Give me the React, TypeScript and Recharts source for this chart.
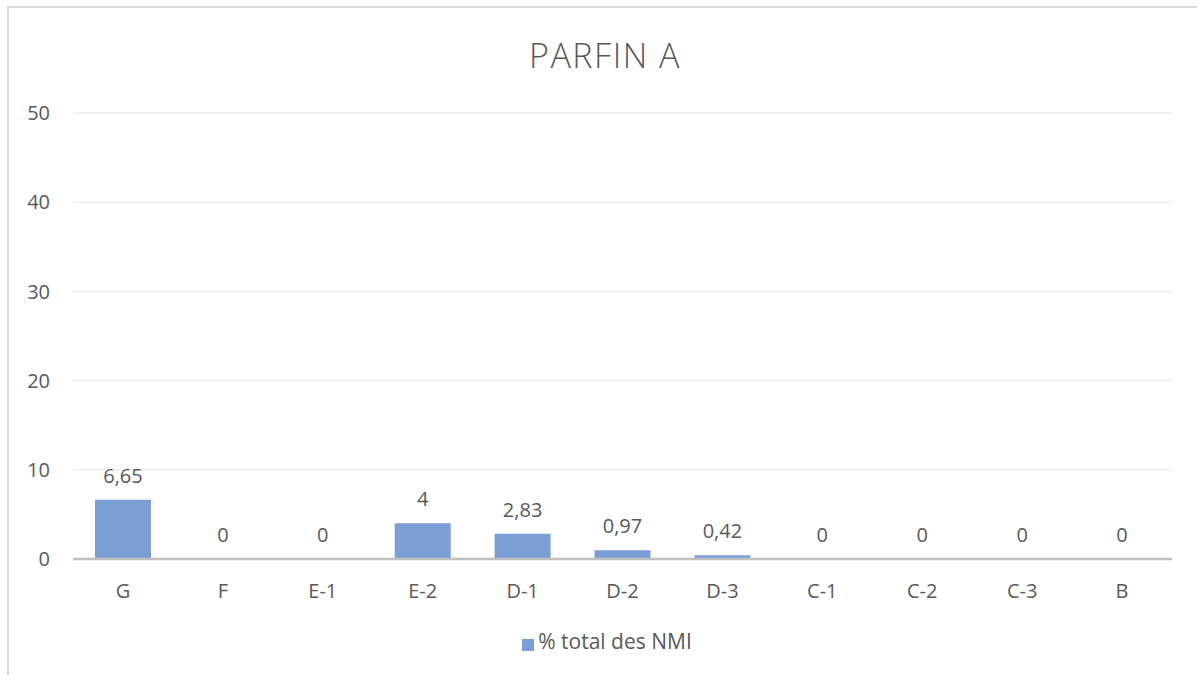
import React from "react";
import {
  ComposedChart,
  Bar,
  Line,
  XAxis,
  YAxis,
  CartesianGrid,
  Legend,
  LabelList,
} from "recharts";

const categories = ["G", "F", "E-1", "E-2", "D-1", "D-2", "D-3", "C-1", "C-2", "C-3", "B"];
const nmiValues = [6.65, 0, 0, 4, 2.83, 0.97, 0.42, 0, 0, 0, 0];
const yTicks = [0, 10, 20, 30, 40, 50];

const seriesName = "% total des NMI";
const FONT = "'Open Sans', sans-serif";
const TEXT = "#595959";
const BAR = "#7b9ed7";

const data = categories.map((cat, i) => ({ cat, value: nmiValues[i] }));

// french decimal comma
const fmt = (v: any) => String(v).replace(".", ",");

export default function App() {
  return (
    <div style={{ position: "absolute", left: 0, top: 0, width: 1197, height: 675, fontFamily: FONT }}>
      {/* chart frame, cut off on the right and bottom */}
      <div
        style={{
          position: "absolute",
          left: 7,
          top: 6,
          width: 1300,
          height: 800,
          borderTop: "2px solid #d9d9d9",
          borderLeft: "2px solid #d9d9d9",
        }}
      />
      <div
        style={{
          position: "absolute",
          left: 0,
          width: 1210,
          top: 32,
          textAlign: "center",
          fontSize: 34,
          color: TEXT,
          letterSpacing: 1.5,
          fontWeight: 300,
        }}
      >
        PARFIN A
      </div>
      <ComposedChart
        width={1197}
        height={675}
        data={data}
        margin={{ top: 113, right: 25, bottom: 48, left: 0 }}
        barCategoryGap="22%"
        style={{ position: "absolute", left: 0, top: 0 }}
      >
        <CartesianGrid vertical={false} stroke="#ececec" strokeWidth={1.5} />
        <XAxis
          dataKey="cat"
          axisLine={{ stroke: "#c0c0c0", strokeWidth: 2.5 }}
          tickLine={false}
          tickMargin={19}
          height={40}
          tick={{ fill: TEXT, fontSize: 20, fontFamily: FONT }}
        />
        <YAxis
          domain={[0, 50]}
          ticks={yTicks}
          width={73}
          axisLine={false}
          tickLine={false}
          tickMargin={17}
          tick={{ fill: TEXT, fontSize: 20, fontFamily: FONT }}
        />
        <Legend
          verticalAlign="bottom"
          align="center"
          iconType="square"
          iconSize={12}
          wrapperStyle={{ left: 0, width: 1224, bottom: 20 }}
          formatter={(v: any) => (
            <span style={{ color: TEXT, fontSize: 21, fontFamily: FONT }}>{v}</span>
          )}
        />
        <Bar dataKey="value" name={seriesName} fill={BAR} isAnimationActive={false} />
        {/* invisible line only carries the value labels, so zeros get one too */}
        <Line
          dataKey="value"
          stroke="none"
          dot={false}
          activeDot={false}
          legendType="none"
          isAnimationActive={false}
        >
          <LabelList
            dataKey="value"
            position="top"
            offset={17}
            formatter={fmt}
            style={{ fill: TEXT, fontSize: 20, fontFamily: FONT }}
          />
        </Line>
      </ComposedChart>
    </div>
  );
}
